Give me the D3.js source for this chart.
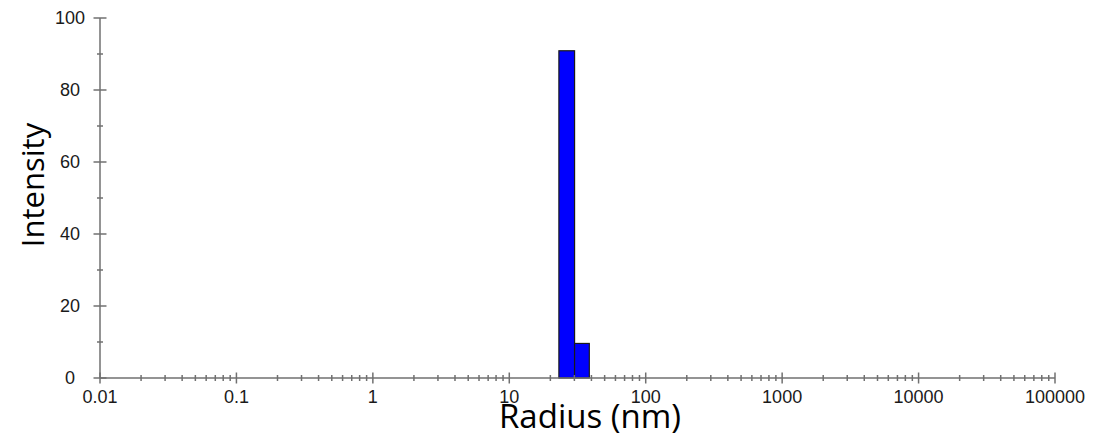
<!DOCTYPE html>
<meta charset="utf-8">
<style>
    body {
        margin: 0;
        background: #fff;
    }

    .tick text {
        font-family: Arial, "Liberation Sans", sans-serif;
        font-size: 18px;
        fill: #1a1a1a;
    }

    .title {
        font-family: "Open Sans", sans-serif;
        fill: #000;
    }
</style>
<svg width="1102" height="436"></svg>
<script src="https://d3js.org/d3.v7.min.js"></script>
<script>
    // size distribution bins (radius in nm)
    var binLeft = [23.1, 30.1];
    var binRight = [30.1, 38.6];
    var intensity = [90.9, 9.6];

    var xTicks = [0.01, 0.1, 1, 10, 100, 1000, 10000, 100000];
    var yTicks = [0, 20, 40, 60, 80, 100];
    var yMinor = [10, 30, 50, 70, 90];

    var svg = d3.select("svg"),
        x0 = 100, x1 = 1055,
        y0 = 378, y1 = 18,
        axisColor = "#707070";

    var x = d3.scaleLog().domain([0.01, 100000]).range([x0, x1]);
    var y = d3.scaleLinear().domain([0, 100]).range([y0, y1]);

    // minor x ticks 2..9 in each decade
    var xMinor = [];
    xTicks.slice(0, -1).forEach(function (d) {
        for (var k = 2; k <= 9; k++) xMinor.push(d * k);
    });

    // bars
    svg.append("g")
        .selectAll("rect")
        .data(intensity)
        .enter().append("rect")
        .attr("x", function (d, i) { return x(binLeft[i]); })
        .attr("width", function (d, i) { return x(binRight[i]) - x(binLeft[i]); })
        .attr("y", function (d) { return y(d); })
        .attr("height", function (d) { return y(0) - y(d); })
        .style("fill", "#0000ff")
        .style("stroke", "#1a1a1a")
        .style("stroke-width", 1.2);

    var ax = svg.append("g").style("stroke", axisColor).style("stroke-width", 1.5);

    // axis lines
    ax.append("line").attr("x1", x0).attr("x2", x1).attr("y1", y0).attr("y2", y0);
    ax.append("line").attr("x1", x0).attr("x2", x0).attr("y1", y0).attr("y2", y1);

    // x ticks
    ax.selectAll(".xmaj").data(xTicks).enter().append("line")
        .attr("x1", function (d) { return x(d); }).attr("x2", function (d) { return x(d); })
        .attr("y1", y0 - 5.5).attr("y2", y0 + 5.5);
    ax.selectAll(".xmin").data(xMinor).enter().append("line")
        .attr("x1", function (d) { return x(d); }).attr("x2", function (d) { return x(d); })
        .attr("y1", y0 - 3).attr("y2", y0 + 3);

    // y ticks
    ax.selectAll(".ymaj").data(yTicks).enter().append("line")
        .attr("y1", function (d) { return y(d); }).attr("y2", function (d) { return y(d); })
        .attr("x1", x0 - 6.5).attr("x2", x0 + 6.5);
    ax.selectAll(".ymin").data(yMinor).enter().append("line")
        .attr("y1", function (d) { return y(d); }).attr("y2", function (d) { return y(d); })
        .attr("x1", x0 - 3).attr("x2", x0 + 3);

    // tick labels
    var lab = svg.append("g").attr("class", "tick");
    lab.selectAll(".xl").data(xTicks).enter().append("text")
        .attr("x", function (d) { return x(d); })
        .attr("y", 403)
        .attr("text-anchor", "middle")
        .text(function (d) { return String(d); });
    lab.selectAll(".yl").data(yTicks).enter().append("text")
        .attr("x", 70)
        .attr("y", function (d) { return y(d) + 6; })
        .attr("text-anchor", "middle")
        .text(function (d) { return d; });

    // axis titles
    svg.append("text").attr("class", "title")
        .attr("x", 590).attr("y", 428)
        .attr("text-anchor", "middle")
        .style("font-size", "33px")
        .text("Radius (nm)");

    svg.append("text").attr("class", "title")
        .attr("transform", "translate(44,185) rotate(-90)")
        .attr("text-anchor", "middle")
        .style("font-size", "31px")
        .text("Intensity");
</script>
